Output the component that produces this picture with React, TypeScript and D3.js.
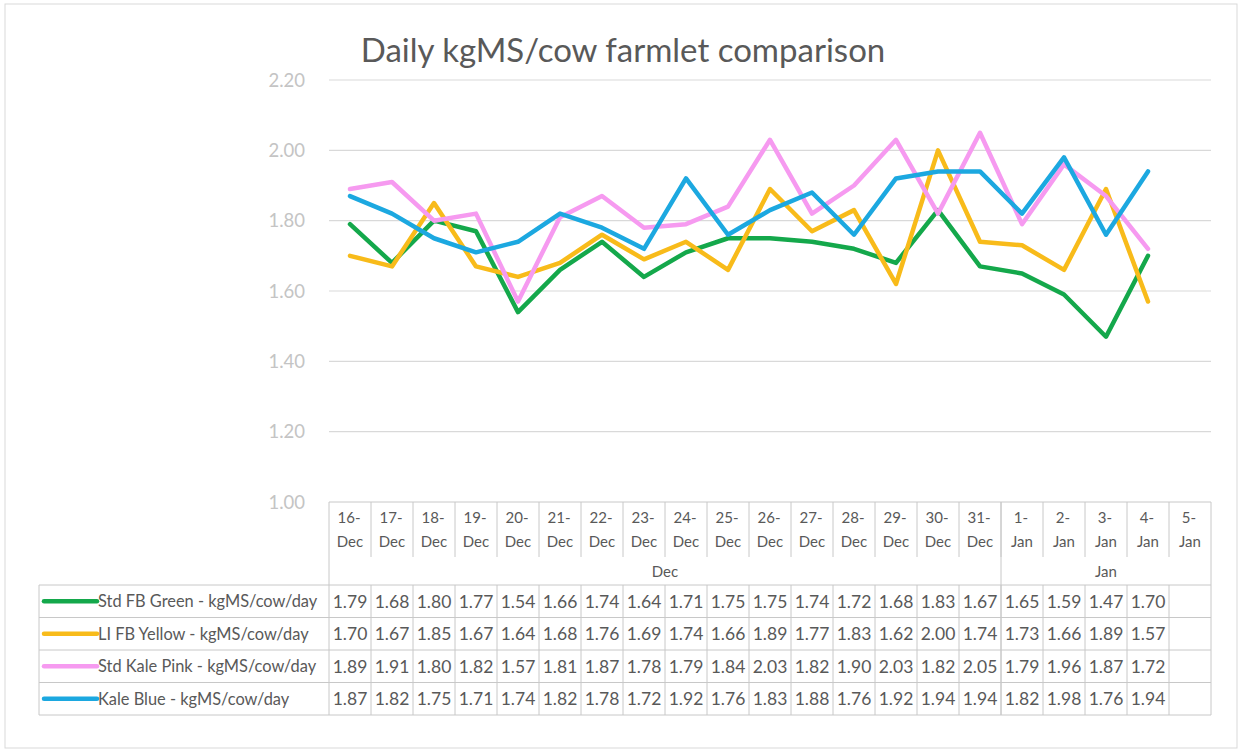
import React from 'react';
import * as d3 from 'd3';

// カテゴリ（日付）
const days = ['16', '17', '18', '19', '20', '21', '22', '23', '24', '25', '26', '27', '28', '29', '30', '31', '1', '2', '3', '4', '5'];
const months = ['Dec', 'Dec', 'Dec', 'Dec', 'Dec', 'Dec', 'Dec', 'Dec', 'Dec', 'Dec', 'Dec', 'Dec', 'Dec', 'Dec', 'Dec', 'Dec', 'Jan', 'Jan', 'Jan', 'Jan', 'Jan'];

const stdFBGreen = [1.79, 1.68, 1.80, 1.77, 1.54, 1.66, 1.74, 1.64, 1.71, 1.75, 1.75, 1.74, 1.72, 1.68, 1.83, 1.67, 1.65, 1.59, 1.47, 1.70, null];
const liFBYellow = [1.70, 1.67, 1.85, 1.67, 1.64, 1.68, 1.76, 1.69, 1.74, 1.66, 1.89, 1.77, 1.83, 1.62, 2.00, 1.74, 1.73, 1.66, 1.89, 1.57, null];
const stdKalePink = [1.89, 1.91, 1.80, 1.82, 1.57, 1.81, 1.87, 1.78, 1.79, 1.84, 2.03, 1.82, 1.90, 2.03, 1.82, 2.05, 1.79, 1.96, 1.87, 1.72, null];
const kaleBlue = [1.87, 1.82, 1.75, 1.71, 1.74, 1.82, 1.78, 1.72, 1.92, 1.76, 1.83, 1.88, 1.76, 1.92, 1.94, 1.94, 1.82, 1.98, 1.76, 1.94, null];

const yTicks = [1.0, 1.2, 1.4, 1.6, 1.8, 2.0, 2.2];

const series = [
  { name: 'Std FB Green - kgMS/cow/day', values: stdFBGreen, color: '#14a84b' },
  { name: 'LI FB Yellow - kgMS/cow/day', values: liFBYellow, color: '#f8bb1a' },
  { name: 'Std Kale Pink - kgMS/cow/day', values: stdKalePink, color: '#f69af0' },
  { name: 'Kale Blue - kgMS/cow/day', values: kaleBlue, color: '#1ca8e0' },
];

const FONT = 'Lato, "Open Sans", sans-serif';
const TEXT = '#595959';
const GRID = '#d9d9d9';
const TABLE = '#c8c8c8';

export default function App() {
  const width = 1240;
  const height = 751;
  const left = 329;
  const right = 1211;
  const top = 80;
  const bottom = 502;

  const cats = days.map((d, i) => `${d}-${months[i]}`);
  const x = d3.scaleBand<string>().domain(cats).range([left, right]).padding(0);
  const y = d3.scaleLinear().domain([1, 2.2]).range([bottom, top]);
  const bw = x.bandwidth();

  const line = d3.line<number | null>()
    .defined(d => d != null)
    .x((d, i) => (x(cats[i]) as number) + bw / 2)
    .y(d => y(d as number));

  // 表のレイアウト
  const headerBottom = 557;
  const groupBottom = 585;
  const rowH = 32.5;
  const legendLeft = 39;

  // 月のグループ
  const groups = d3.groups(cats.map((c, i) => ({ c, m: months[i] })), d => d.m).map(([m, items]) => {
    const x0 = x(items[0].c) as number;
    const x1 = (x(items[items.length - 1].c) as number) + bw;
    return { m, x0, x1 };
  });

  return (
    <svg width={width} height={height} style={{ position: 'absolute', left: 0, top: 0, background: '#fff' }}>
      <rect x={5} y={4} width={1232} height={744} fill="#fff" stroke={GRID} />
      <text x={623} y={62} textAnchor="middle" fontFamily={FONT} fontSize={33} fill={TEXT}>
        Daily kgMS/cow farmlet comparison
      </text>

      {yTicks.map(t => (
        <g key={t}>
          {t > 1 && <line x1={left} x2={right} y1={y(t)} y2={y(t)} stroke={GRID} strokeWidth={1.2} />}
          <text x={305} y={y(t) + 6.5} textAnchor="end" fontFamily={FONT} fontSize={18.5} fill="#c4c4c4">{t.toFixed(2)}</text>
        </g>
      ))}

      {/* 表 */}
      <g stroke={TABLE} strokeWidth={1}>
        <line x1={left} x2={right} y1={bottom} y2={bottom} />
        {cats.map((c, i) => i > 0 && (
          <line key={c} x1={x(c)} x2={x(c)} y1={bottom} y2={headerBottom} />
        ))}
        {cats.map((c, i) => i > 0 && (
          <line key={'r' + c} x1={x(c)} x2={x(c)} y1={groupBottom} y2={groupBottom + rowH * 4} />
        ))}
        {groups.map(g => (
          <line key={g.m} x1={g.x0} x2={g.x0} y1={bottom} y2={groupBottom + rowH * 4} />
        ))}
        <line x1={right} x2={right} y1={bottom} y2={groupBottom + rowH * 4} />
        <line x1={legendLeft} x2={legendLeft} y1={groupBottom} y2={groupBottom + rowH * 4} />
        {d3.range(5).map(r => (
          <line key={r} x1={legendLeft} x2={right} y1={groupBottom + rowH * r} y2={groupBottom + rowH * r} />
        ))}
      </g>

      {cats.map((c, i) => (
        <text key={c} x={(x(c) as number) + bw / 2} textAnchor="middle" fontFamily={FONT} fontSize={15} fill={TEXT}>
          <tspan x={(x(c) as number) + bw / 2 - 1} y={523}>{days[i]}-</tspan>
          <tspan x={(x(c) as number) + bw / 2} y={547}>{months[i]}</tspan>
        </text>
      ))}
      {groups.map(g => (
        <text key={g.m} x={(g.x0 + g.x1) / 2} y={577} textAnchor="middle" fontFamily={FONT} fontSize={15} fill={TEXT}>{g.m}</text>
      ))}

      {series.map((s, r) => {
        const cy = groupBottom + rowH * r + rowH / 2;
        return (
          <g key={s.name}>
            <line x1={44} x2={97} y1={cy} y2={cy} stroke={s.color} strokeWidth={4.5} strokeLinecap="round" />
            <text x={98} y={cy + 6} fontFamily={FONT} fontSize={16.4} fill={TEXT}>{s.name}</text>
            {s.values.map((v, i) => v != null && (
              <text key={i} x={(x(cats[i]) as number) + bw / 2} y={cy + 6.5} textAnchor="middle" fontFamily={FONT} fontSize={17.5} fill={TEXT}>
                {v.toFixed(2)}
              </text>
            ))}
          </g>
        );
      })}

      {series.map(s => (
        <path key={s.name} d={line(s.values) || ''} fill="none" stroke={s.color} strokeWidth={4.5} strokeLinejoin="round" strokeLinecap="round" />
      ))}
    </svg>
  );
}
